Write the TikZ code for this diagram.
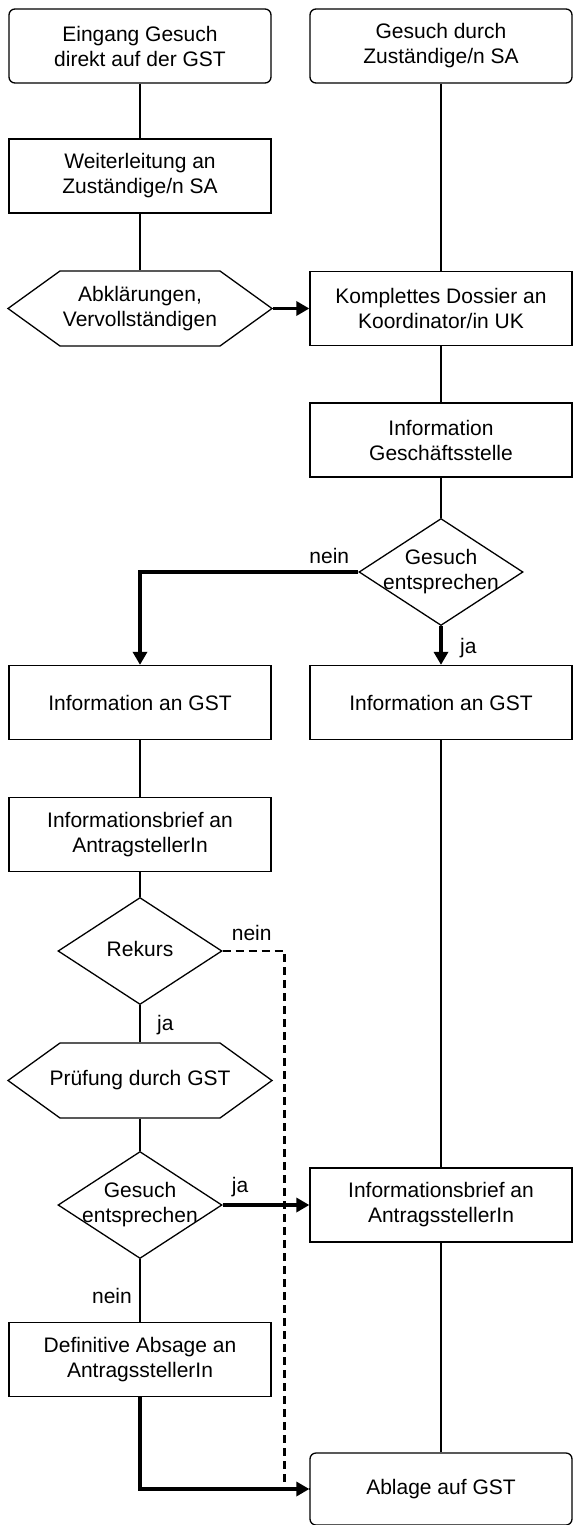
\documentclass[tikz,border=0pt]{standalone}
\usepackage{fontspec}
\setmainfont{Liberation Sans}
\usetikzlibrary{shapes.geometric, shapes.symbols, positioning, arrows.meta}
\tikzstyle{block} = [draw, line width=1.3pt, minimum width=262pt,
        minimum height=74pt, align=center, inner sep=0pt]
\tikzstyle{startbox} = [block, rounded corners=6pt]
\tikzset{hexbox/.style={draw, line width=1.3pt, shape=signal, signal to=west and east,
        signal pointer angle=71.6, minimum width=264pt, minimum height=75pt,
        inner sep=0pt},
    decision/.style={draw, line width=1.3pt, shape=diamond, minimum width=164pt,
        minimum height=107pt, inner sep=0pt},
    lbl/.style={inner sep=0pt},
    conn/.style={line width=1.3pt},
    flow/.style={line width=3.5pt, -{Triangle[length=13pt,width=14pt]}},
    dashline/.style={line width=2.8pt, dash pattern=on 8pt off 5pt}
}
\newcommand{\raute}[1]{\makebox[0pt]{\raisebox{-0.25em}[0pt][0pt]{%
    \begin{tabular}{@{}c@{}}#1\end{tabular}}}}

\begin{document}
\begin{tikzpicture}[x=1pt, y=-1pt, font=\fontsize{21pt}{25pt}\selectfont]
    \useasboundingbox (0,0) rectangle (573,1525);

    % linke Spalte
    \node [startbox] (eingang) at (140,46) {Eingang Gesuch\\direkt auf der GST};
    \node [block] (weiter) at (140,176) {Weiterleitung an\\Zuständige/n SA};
    \node [hexbox] (abkl) at (140,308.5) {\raute{Abklärungen,\\Vervollständigen}};
    \node [block] (infoL) at (140,702.5) {Information an GST};
    \node [block] (briefL) at (140,834.5) {Informationsbrief an\\AntragstellerIn};
    \node [decision] (rekurs) at (140,951) {\raute{Rekurs}};
    \node [hexbox] (pruefung) at (140,1080.5) {\raute{Prüfung durch GST}};
    \node [decision] (entscheidB) at (140,1205) {\raute{Gesuch\\entsprechen}};
    \node [block] (absage) at (140,1359.5) {Definitive Absage an\\AntragsstellerIn};

    % rechte Spalte
    \node [startbox] (gesuch) at (441,46) {Gesuch durch\\Zuständige/n SA};
    \node [block] (dossier) at (441,308.5) {Komplettes Dossier an\\Koordinator/in UK};
    \node [block] (infogst) at (441,440) {Information\\Geschäftsstelle};
    \node [decision] (entscheid) at (441,572) {\raute{Gesuch\\entsprechen}};
    \node [block] (infoR) at (441,702.5) {Information an GST};
    \node [block] (briefR) at (441,1205) {Informationsbrief an\\AntragsstellerIn};
    \node [startbox, minimum height=72pt] (ablage) at (441,1489) {Ablage auf GST};

    % Beschriftungen
    \node [lbl, above left=8pt and 9pt of entscheid.west] (neinA) {nein};
    \node [lbl, below right=12pt and 19pt of entscheid.south] (jaA) {ja};
    \node [lbl, above right=10pt and 9pt of rekurs.east] (neinB) {nein};
    \node [lbl, below right=10pt and 17pt of rekurs.south] (jaB) {ja};
    \node [lbl, above right=8pt and 9pt of entscheidB.east] (jaC) {ja};
    \node [lbl, below left=29pt and 8pt of entscheidB.south] (neinC) {nein};

    \draw[conn] (eingang) -- (weiter);
    \draw[conn] (weiter) -- (abkl);
    \draw[conn] (gesuch) -- (dossier);
    \draw[conn] (dossier) -- (infogst);
    \draw[conn] (infogst) -- (entscheid);
    \draw[conn] (infoL) -- (briefL);
    \draw[conn] (briefL) -- (rekurs);
    \draw[conn] (rekurs) -- (pruefung);
    \draw[conn] (pruefung) -- (entscheidB);
    \draw[conn] (entscheidB) -- (absage);
    \draw[conn] (infoR) -- (briefR);
    \draw[conn] (briefR) -- (ablage);
    \draw[dashline] (rekurs.east) -- ++(62,0) |- (ablage.west);

    \draw[flow] (abkl.east) -- (dossier.west);
    \draw[flow] (entscheid.west) -| (infoL.north);
    \draw[flow] (entscheid.south) -- (infoR.north);
    \draw[flow] (entscheidB.east) -- (briefR.west);
    \draw[flow] (absage.south) |- (ablage.west);
\end{tikzpicture}
\end{document}
